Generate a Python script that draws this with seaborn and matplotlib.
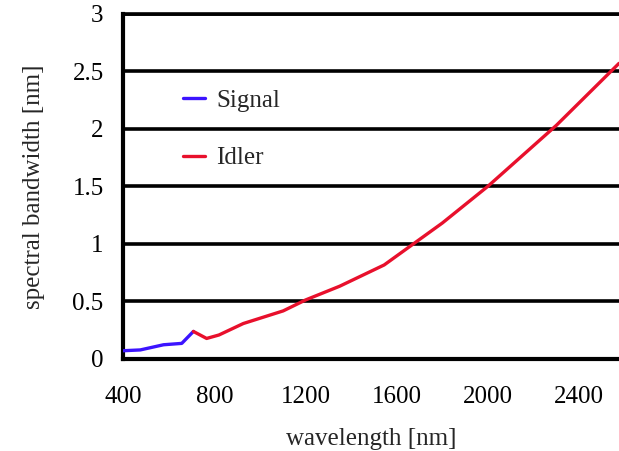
#!/usr/bin/env python3
"""
Spectral bandwidth of signal and idler versus wavelength.
"""
import pandas as pd
import matplotlib
matplotlib.use('Agg')
import matplotlib.pyplot as plt
import seaborn as sns

# Data
signal_wl = [400, 475, 577, 657, 708]
signal_bw = [0.068, 0.075, 0.12, 0.132, 0.236]
idler_wl = [708, 766, 820, 927, 1102, 1200, 1350, 1545, 1800, 2000, 2300, 2575]
idler_bw = [0.236, 0.175, 0.205, 0.305, 0.415, 0.51, 0.63, 0.815, 1.18, 1.5, 2.03, 2.57]

x_ticks = [400, 800, 1200, 1600, 2000, 2400]
y_ticks = [0, 0.5, 1, 1.5, 2, 2.5, 3]


def build_frame():
    """Long-form table for seaborn."""
    sig = pd.DataFrame({'wavelength': signal_wl, 'bandwidth': signal_bw, 'beam': 'Signal'})
    idl = pd.DataFrame({'wavelength': idler_wl, 'bandwidth': idler_bw, 'beam': 'Idler'})
    return pd.concat([sig, idl], ignore_index=True)


def main():
    sns.set_style('white')
    plt.rcParams['font.family'] = ['Liberation Serif', 'DejaVu Serif']

    df = build_frame()
    fig = plt.figure(figsize=(6.19, 4.51), dpi=100)
    ax = fig.add_axes([0.199, 0.205, 0.801, 0.764])

    sns.lineplot(data=df, x='wavelength', y='bandwidth', hue='beam',
                 palette={'Signal': '#3c14ff', 'Idler': '#e8102c'},
                 linewidth=2.4, ax=ax, zorder=3)

    ax.set_xlim(400, 2575)
    ax.set_ylim(0, 3)
    ax.set_xticks(x_ticks)
    ax.set_yticks(y_ticks)
    ax.set_yticklabels(['0', '0.5', '1', '1.5', '2', '2.5', '3'])

    # thick black horizontal grid lines
    ax.yaxis.grid(True, color='black', linewidth=2.6)
    ax.xaxis.grid(False)
    ax.set_axisbelow(True)

    ax.spines['right'].set_visible(False)
    ax.spines['top'].set_color('black')
    ax.spines['top'].set_linewidth(2.6)
    for side in ['left', 'bottom']:
        ax.spines[side].set_color('black')
        ax.spines[side].set_linewidth(3)

    ax.tick_params(axis='both', direction='out', colors='#555555', labelcolor='black',
                   labelsize=18, width=1)
    ax.tick_params(axis='x', length=6, pad=14)
    ax.tick_params(axis='y', length=6, pad=8)

    ax.set_xlabel('wavelength [nm]', fontsize=18, labelpad=14)
    ax.set_ylabel('spectral bandwidth [nm]', fontsize=18, labelpad=20)

    ax.legend(title=None, frameon=False, loc='upper left', bbox_to_anchor=(0.1, 0.81),
              fontsize=18, handlelength=0.9, handletextpad=0.45, labelspacing=1.4,
              borderaxespad=0)

    fig.savefig('out.png', dpi=100)
    plt.close(fig)


if __name__ == "__main__":
    main()
